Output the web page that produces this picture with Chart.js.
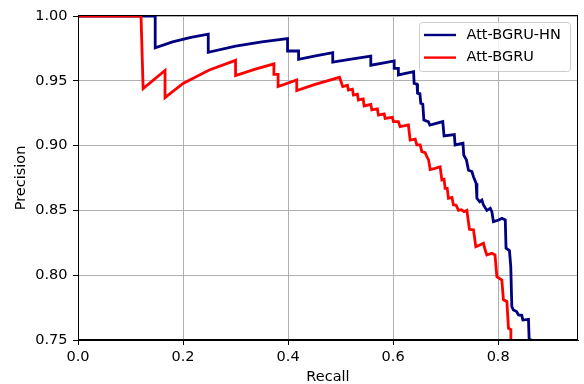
<!DOCTYPE html>
<html>
<head>
<meta charset="utf-8">
<script src="https://cdn.jsdelivr.net/npm/chart.js@4/dist/chart.umd.min.js"></script>
<style>
  html, body { margin: 0; padding: 0; background: #fff; }
  #wrap { width: 584px; height: 384px; }
</style>
</head>
<body>
<div id="wrap"><canvas id="pr" width="584" height="384"></canvas></div>
<script>
// series names and colours
const seriesNames = ["Att-BGRU-HN", "Att-BGRU"];
const seriesColors = ["#000080", "#ff0000"];

// Att-BGRU-HN (recall, precision) vertices
const hnRecall = [
  0, 0.147, 0.147, 0.18, 0.215, 0.248, 0.248, 0.30, 0.35, 0.399,
  0.399, 0.420, 0.420, 0.45, 0.485, 0.485, 0.52, 0.5575, 0.5575, 0.58,
  0.602, 0.602, 0.610, 0.610, 0.639, 0.640, 0.6455, 0.6465, 0.651, 0.6527,
  0.6565, 0.6585, 0.667, 0.670, 0.6945, 0.697, 0.7165, 0.718, 0.733, 0.7345,
  0.7395, 0.7435, 0.750, 0.753, 0.758, 0.7595, 0.765, 0.769, 0.772, 0.7785,
  0.785, 0.788, 0.791, 0.801, 0.807, 0.8135, 0.815, 0.8215, 0.824, 0.826,
  0.829, 0.835, 0.8387, 0.845, 0.847, 0.8577, 0.859, 0.864
];
const hnPrecision = [
  1.0, 1.0, 0.9755, 0.980, 0.9835, 0.986, 0.972, 0.9768, 0.980, 0.9825,
  0.973, 0.973, 0.9666, 0.969, 0.9717, 0.9645, 0.9668, 0.969, 0.962, 0.9637,
  0.9653, 0.9596, 0.9596, 0.9545, 0.957, 0.948, 0.9475, 0.9404, 0.940, 0.9326,
  0.932, 0.9198, 0.9185, 0.9159, 0.9185, 0.9074, 0.9085, 0.9005, 0.9018, 0.8927,
  0.889, 0.881, 0.880, 0.876, 0.871, 0.8593, 0.8567, 0.858, 0.8542, 0.850,
  0.8516, 0.849, 0.8413, 0.8426, 0.8439, 0.8426, 0.8208, 0.819, 0.8066, 0.7757,
  0.7731, 0.772, 0.7693, 0.769, 0.7654, 0.766, 0.75, 0.75
];

// Att-BGRU (recall, precision) vertices
const baseRecall = [
  0, 0.120, 0.124, 0.1657, 0.1657, 0.20, 0.25, 0.300, 0.300, 0.336,
  0.373, 0.373, 0.381, 0.381, 0.4165, 0.4165, 0.45, 0.498, 0.504, 0.513,
  0.515, 0.5225, 0.5244, 0.532, 0.5339, 0.543, 0.5448, 0.5575, 0.5594, 0.570,
  0.572, 0.583, 0.5848, 0.5985, 0.6006, 0.610, 0.6133, 0.6291, 0.6324, 0.642,
  0.6451, 0.6515, 0.6547, 0.661, 0.6642, 0.6675, 0.6705, 0.680, 0.6895, 0.6928,
  0.697, 0.699, 0.703, 0.7053, 0.712, 0.7149, 0.720, 0.7244, 0.730, 0.7352,
  0.7404, 0.7453, 0.753, 0.7575, 0.765, 0.772, 0.7755, 0.7785, 0.788, 0.794,
  0.7975, 0.807, 0.810, 0.8166, 0.8196, 0.8242, 0.8242
];
const basePrecision = [
  1.0, 1.0, 0.944, 0.958, 0.937, 0.948, 0.9583, 0.9658, 0.954, 0.9588,
  0.963, 0.955, 0.955, 0.9455, 0.9506, 0.9424, 0.947, 0.9527, 0.9455, 0.9465,
  0.9429, 0.9436, 0.939, 0.9397, 0.9352, 0.936, 0.9306, 0.9318, 0.9275, 0.9283,
  0.9236, 0.9245, 0.921, 0.9218, 0.9185, 0.9185, 0.9146, 0.9159, 0.9043, 0.905,
  0.9005, 0.9005, 0.8953, 0.8945, 0.8914, 0.889, 0.8815, 0.8825, 0.8837, 0.8735,
  0.874, 0.867, 0.867, 0.8593, 0.860, 0.8542, 0.854, 0.850, 0.8505, 0.849,
  0.850, 0.8354, 0.835, 0.822, 0.8233, 0.8246, 0.819, 0.8156, 0.8169, 0.8156,
  0.7989, 0.7963, 0.781, 0.7797, 0.759, 0.758, 0.75
];

// axis ranges and ticks
const recallMax = 0.952;
const precisionMin = 0.75;
const precisionMax = 1.0;

const toPoints = (xs, ys) => xs.map((x, i) => ({ x: x, y: ys[i] }));

const FONT = "'DejaVu Sans', sans-serif";
const FSIZE = 14.5;

// top/right spines plus matplotlib-style legend box
const framePlugin = {
  id: "frame",
  afterDraw(chart) {
    const { ctx, chartArea: a } = chart;
    ctx.save();
    ctx.strokeStyle = "#000";
    ctx.lineWidth = 1;
    ctx.strokeRect(Math.round(a.left) + 0.5, Math.round(a.top) - 0.5,
      Math.round(a.right - a.left) - 1, Math.round(a.bottom - a.top));

    // legend
    const bx = a.right - 159, by = a.top + 6, bw = 151, bh = 49;
    ctx.beginPath();
    ctx.roundRect(bx + 0.5, by + 0.5, bw, bh, 3);
    ctx.fillStyle = "rgba(255,255,255,0.8)";
    ctx.fill();
    ctx.strokeStyle = "#cccccc";
    ctx.stroke();
    ctx.font = FSIZE + "px " + FONT;
    ctx.textBaseline = "middle";
    ctx.fillStyle = "#000";
    seriesNames.forEach((name, i) => {
      const y = by + 13 + i * 22.6;
      ctx.beginPath();
      ctx.moveTo(bx + 5, y);
      ctx.lineTo(bx + 37, y);
      ctx.strokeStyle = seriesColors[i];
      ctx.lineWidth = 2.4;
      ctx.stroke();
      ctx.fillText(name, bx + 47.5, y);
    });
    ctx.restore();
  }
};

new Chart(document.getElementById("pr"), {
  type: "scatter",
  data: {
    datasets: [
      {
        label: seriesNames[0],
        data: toPoints(hnRecall, hnPrecision),
        showLine: true,
        borderColor: seriesColors[0],
        borderWidth: 2.8,
        pointRadius: 0,
        tension: 0,
        clip: { left: 0, top: 1, right: 0, bottom: 0 },
        order: 1
      },
      {
        label: seriesNames[1],
        data: toPoints(baseRecall, basePrecision),
        showLine: true,
        borderColor: seriesColors[1],
        borderWidth: 2.8,
        pointRadius: 0,
        tension: 0,
        clip: { left: 0, top: 1, right: 0, bottom: 0 },
        order: 0
      }
    ]
  },
  options: {
    responsive: false,
    animation: false,
    events: [],
    layout: { padding: { top: 16, right: 6, left: 0, bottom: 0 } },
    plugins: { legend: { display: false }, tooltip: { enabled: false } },
    scales: {
      x: {
        type: "linear",
        min: 0,
        max: recallMax,
        afterFit: (s) => { s.height = 44; },
        ticks: {
          stepSize: 0.2,
          includeBounds: false,
          padding: 3.5,
          color: "#000",
          font: { family: FONT, size: FSIZE },
          callback: (v) => v.toFixed(1)
        },
        grid: { color: "#b0b0b0", lineWidth: 1, tickColor: "#000", tickLength: 5 },
        border: { color: "#000", width: 1 },
        title: {
          display: true,
          text: "Recall",
          color: "#000",
          font: { family: FONT, size: FSIZE, lineHeight: 1 },
          padding: { top: 0, bottom: 0 }
        }
      },
      y: {
        type: "linear",
        min: precisionMin,
        max: precisionMax,
        afterFit: (s) => { s.width = 78; },
        ticks: {
          stepSize: 0.05,
          padding: 5.5,
          color: "#000",
          font: { family: FONT, size: FSIZE },
          callback: (v) => v.toFixed(2)
        },
        grid: { color: "#b0b0b0", lineWidth: 1, tickColor: "#000", tickLength: 5 },
        border: { color: "#000", width: 1 },
        title: {
          display: true,
          text: "Precision",
          color: "#000",
          font: { family: FONT, size: FSIZE, lineHeight: 1 },
          padding: { top: 14, bottom: 0 }
        }
      }
    }
  },
  plugins: [framePlugin]
});
</script>
</body>
</html>
